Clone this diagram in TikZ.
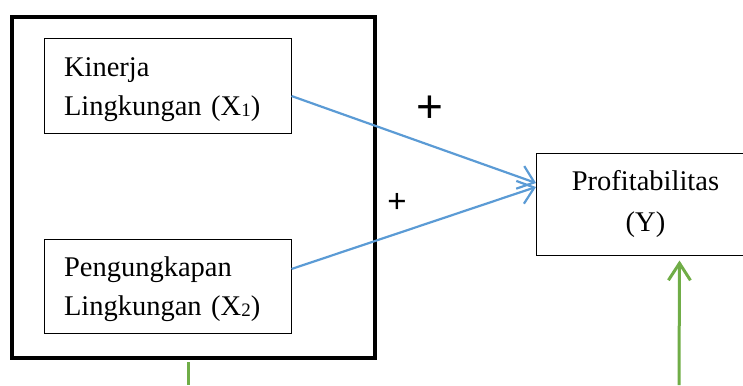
\documentclass[tikz,border=0pt]{standalone}
\usepackage{fontspec}
\setmainfont{Liberation Serif}
\newfontfamily\plusfont{Liberation Sans}
\usetikzlibrary{arrows.meta}
\definecolor{lineblue}{HTML}{5B9BD5}
\definecolor{linegreen}{HTML}{70AD47}
\newcommand{\sbx}[1]{\raisebox{-1pt}{\fontsize{19}{19}\selectfont #1}}
\begin{document}
\begin{tikzpicture}[x=1pt, y=-1pt, line join=miter, font=\fontsize{28.5}{39}\selectfont,
	varbox/.style={draw, line width=1pt, minimum width=247pt, minimum height=94pt, inner xsep=20pt, text width=207pt, align=left},
	ybox/.style={draw, line width=1pt, minimum width=218pt, minimum height=102pt, align=center, font=\fontsize{28.5}{41}\selectfont},
	bluearrow/.style={draw=lineblue, line width=2.2pt, -{Straight Barb[length=15pt, width=24pt, line width=2.2pt]}},
	greenline/.style={draw=linegreen, line width=3pt},
	greenarrow/.style={greenline, -{Straight Barb[length=17pt, width=22pt, line width=3pt]}}]
	\useasboundingbox (0,0) rectangle (743,385);
	\clip (0,0) rectangle (743,385);
	% group of the two X variables
	\node[draw, line width=4.5pt, minimum width=363pt, minimum height=341pt] (group) at (193.5,187.5) {};
	\node[varbox] (x1) at (167.5,86) {\rule{0pt}{27pt}Kinerja\\Lingkungan (X\sbx{1})};
	\node[varbox] (x2) at (167.5,286) {\rule{0pt}{27pt}Pengungkapan\\Lingkungan (X\sbx{2})};
	\node[ybox, anchor=west] (y) at (536,204) {Profitabilitas\\(Y)};
	% effects
	\draw[bluearrow] ([yshift=-10pt]x1.east) -- ([yshift=21pt]y.west);
	\draw[bluearrow] ([yshift=17pt]x2.east) -- ([yshift=17pt]y.west);
	\node[font=\plusfont\fontsize{46}{46}\selectfont] (p1) at (430,109) {+};
	\node[font=\plusfont\fontsize{33}{33}\selectfont] (p2) at (397,203) {+};
	% outside links
	\coordinate (gout) at (188,385);
	\coordinate (gin) at (679,385);
	\draw[greenline] ([xshift=-5.5pt, yshift=-2.2pt]group.south) -- (gout);
	\draw[greenarrow] (gin) -- ([xshift=34pt, yshift=-5pt]y.south);
\end{tikzpicture}
\end{document}
